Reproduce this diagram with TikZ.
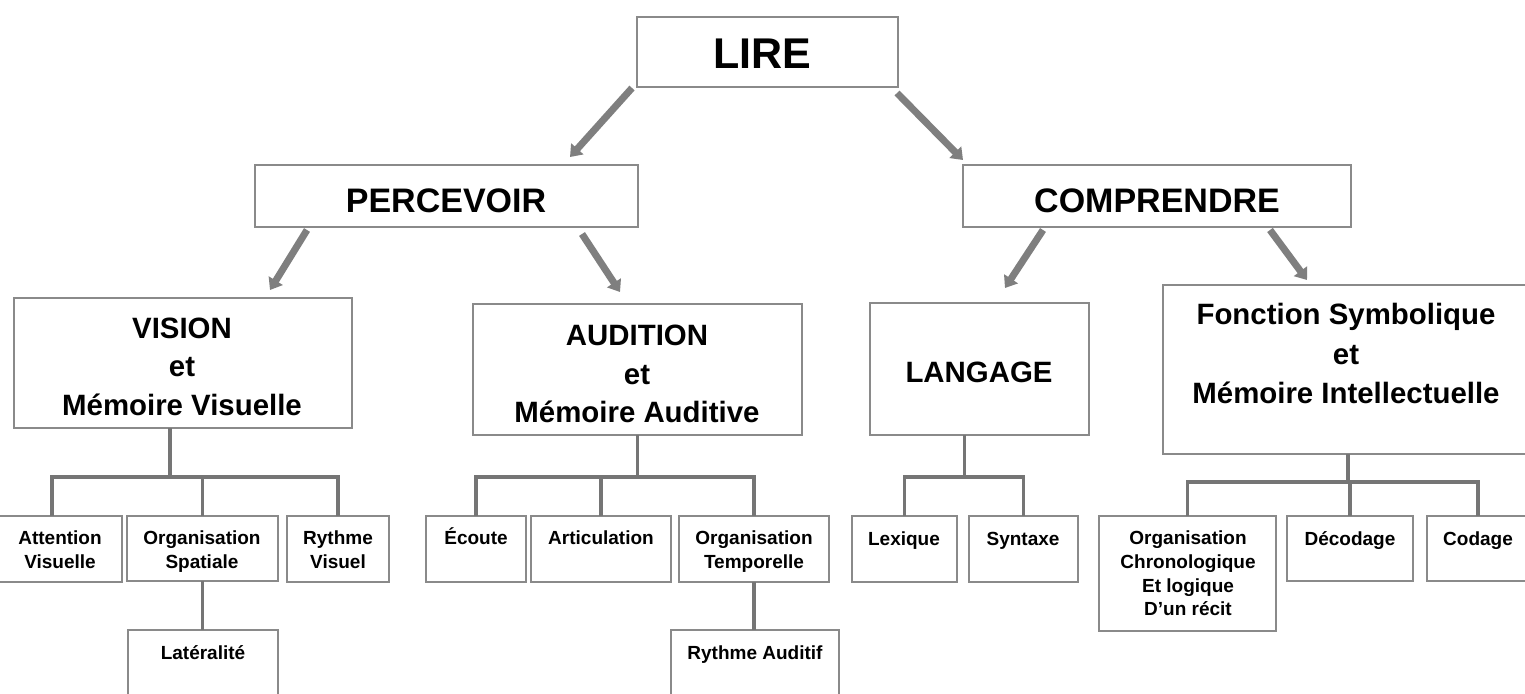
\documentclass[tikz,border=0pt]{standalone}
\usepackage{fontspec}
\setmainfont{Liberation Sans}
\usetikzlibrary{arrows.meta,calc}
\definecolor{boxgray}{HTML}{8A8A8A}
\definecolor{conngray}{HTML}{757575}
\definecolor{arrgray}{HTML}{7F7F7F}
\newcommand{\mkbox}[5]{\node[box, minimum width={#4-#2}, minimum height={#5-#3}] (#1) at ({(#2+#4)/2},{(#3+#5)/2}) {};}
\begin{document}
\begin{tikzpicture}[x=1pt,y=-1pt,
  box/.style={rectangle, draw=boxgray, line width=2pt, fill=white, inner sep=0pt, outer sep=0pt},
  conn/.style={draw=conngray, line width=3.5pt, line join=miter},
  arr/.style={draw=arrgray, line width=7pt, -{Triangle[width=16pt,length=11pt]}},
  tTop/.style={inner sep=0pt, anchor=base, font=\bfseries\fontsize{43}{50}\selectfont},
  tMid/.style={inner sep=0pt, anchor=base, font=\bfseries\fontsize{34}{40}\selectfont},
  tBox/.style={inner sep=0pt, align=center, font=\bfseries\fontsize{29.4}{38.5}\selectfont},
  tLeaf/.style={inner sep=0pt, align=center, font=\bfseries\fontsize{19}{24}\selectfont},
  tLeafB/.style={inner sep=0pt, anchor=base, font=\bfseries\fontsize{19}{24}\selectfont}]
\useasboundingbox (0,0) rectangle (1525,693);
\fill[white] (0,0) rectangle (1525,693);
\clip (0,0) rectangle (1525,693);

% boxes
\mkbox{lire}{637}{17}{898}{87}
\mkbox{perc}{255}{165}{638}{227}
\mkbox{comp}{963}{165}{1351}{227}
\mkbox{vis}{14}{298}{352}{428}
\mkbox{aud}{473}{304}{802}{435}
\mkbox{lang}{870}{303}{1089}{435}
\mkbox{fonc}{1163}{285}{1529}{454}
\mkbox{att}{-2}{516}{122}{582}
\mkbox{orgS}{127}{516}{278}{581}
\mkbox{ryV}{287}{516}{389}{582}
\mkbox{lat}{128}{630}{278}{700}
\mkbox{eco}{426}{516}{526}{582}
\mkbox{art}{531}{516}{671}{582}
\mkbox{orgT}{679}{516}{829}{582}
\mkbox{ryA}{671}{630}{839}{700}
\mkbox{lex}{852}{516}{957}{582}
\mkbox{syn}{969}{516}{1078}{582}
\mkbox{orgC}{1099}{516}{1276}{631}
\mkbox{dec}{1287}{516}{1413}{581}
\mkbox{cod}{1427}{516}{1529}{581}

% arrows
\draw[arr] ($(lire.south west)+(-5,1)$) -- ($(perc.north west)+(315,-8)$);
\draw[arr] ($(lire.south east)+(-1,6)$) -- ($(comp.north west)+(0,-5)$);
\draw[arr] ($(perc.south west)+(52,3)$) -- ($(vis.north west)+(256,-8)$);
\draw[arr] ($(perc.south east)+(-56,7)$) -- ($(aud.north west)+(147,-12)$);
\draw[arr] ($(comp.south west)+(80,3)$) -- ($(lang.north west)+(135,-15)$);
\draw[arr] ($(comp.south west)+(307,3)$) -- ($(fonc.north west)+(144,-5)$);

% tree connectors
\coordinate (visJ) at ($(vis.south)+(-13,49)$);
\draw[conn] (vis.south -| visJ) -- (visJ);
\draw[conn] ([xshift=-8pt]att.north) |- (visJ) -| (ryV.north);
\draw[conn] (visJ -| orgS.north) -- (orgS.north);
\draw[conn] (orgS.south) -- (lat.north -| orgS.south);

\coordinate (audJ) at ($(aud.south)+(0,42)$);
\draw[conn] (aud.south) -- (audJ);
\draw[conn] (eco.north) |- (audJ) -| (orgT.north);
\draw[conn] (audJ -| art.north) -- (art.north);
\draw[conn] (orgT.south) -- (ryA.north -| orgT.south);

\coordinate (langJ) at ($(lang.south)+(-15,42)$);
\draw[conn] (lang.south -| langJ) -- (langJ);
\draw[conn] (lex.north) |- (langJ) -| (syn.north);

\coordinate (foncJ) at ($(fonc.south)+(2,28)$);
\draw[conn] (fonc.south -| foncJ) -- (foncJ);
\draw[conn] (orgC.north) |- (foncJ) -| (cod.north);
\draw[conn] (foncJ -| dec.north) -- (dec.north);

% texts
\node[tTop] (lireT) at (762,68) {LIRE};
\node[tMid] (percT) at (446,212) {PERCEVOIR};
\node[tMid] (compT) at (1157,212) {COMPRENDRE};
\node[tBox] (visT) at (182,366.5) {VISION\\et\\Mémoire Visuelle};
\node[tBox] (audT) at (637,374) {AUDITION\\et\\Mémoire Auditive};
\node[tBox, anchor=base] (langT) at (979,382.5) {LANGAGE};
\node[tBox, font=\bfseries\fontsize{29.4}{39.5}\selectfont] (foncT) at (1346,353.5) {Fonction Symbolique\\et\\Mémoire Intellectuelle};
\node[tLeaf] (attT) at (60,550) {Attention\\Visuelle};
\node[tLeaf] (orgST) at (202,552) {Organisation\\Spatiale};
\node[tLeaf] (ryVT) at (338,550) {Rythme\\Visuel};
\node[tLeafB] (latT) at (203,659) {Latéralité};
\node[tLeafB] (ecoT) at (476,544) {Écoute};
\node[tLeafB] (artT) at (601,544) {Articulation};
\node[tLeaf] (orgTT) at (754,552) {Organisation\\Temporelle};
\node[tLeafB] (ryAT) at (755,659) {Rythme Auditif};
\node[tLeafB] (lexT) at (904,545) {Lexique};
\node[tLeafB] (synT) at (1023,545) {Syntaxe};
\node[tLeaf, font=\bfseries\fontsize{19}{23.7}\selectfont] (orgCT) at (1188,573.5) {Organisation\\Chronologique\\Et logique\\D’un récit};
\node[tLeafB] (decT) at (1350,545) {Décodage};
\node[tLeafB] (codT) at (1478,545) {Codage};
\end{tikzpicture}
\end{document}
